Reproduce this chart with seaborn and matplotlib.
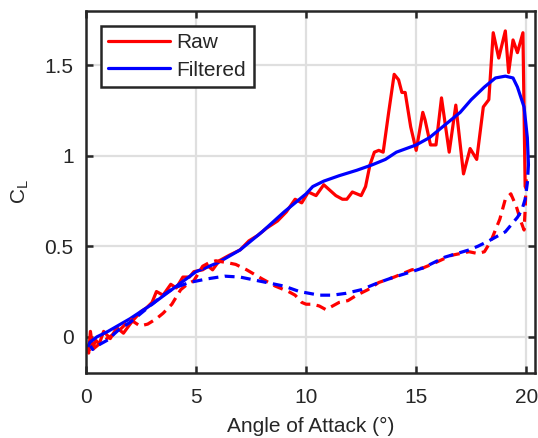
import matplotlib
matplotlib.use("Agg")
import matplotlib.pyplot as plt
import seaborn as sns
import pandas as pd

# Lift coefficient vs angle of attack: upstroke (solid) and downstroke (dashed)
raw_up_aoa = [0.05, 0.12, 0.2, 0.3, 0.45, 0.6, 0.8, 1.1, 1.4, 1.7, 2.0, 2.2, 2.5, 2.75, 3.0,
              3.2, 3.5, 3.85, 4.1, 4.4, 4.7, 4.9, 5.3, 5.55, 5.75, 6.05, 6.5, 7.0, 7.4, 7.8,
              8.2, 8.7, 9.1, 9.5, 9.8, 10.1, 10.45, 10.8, 11.35, 11.65, 11.85, 12.1, 12.5,
              12.7, 12.9, 13.1, 13.3, 13.5, 13.75, 14.0, 14.2, 14.35, 14.5, 14.75, 15.0,
              15.3, 15.4, 15.65, 15.9, 16.15, 16.5, 16.8, 17.15, 17.45, 17.75, 18.05, 18.3,
              18.5, 18.75, 19.05, 19.2, 19.4, 19.6, 19.85, 19.95]
raw_up_cl = [-0.06, -0.09, 0.03, -0.06, -0.02, -0.04, 0.03, -0.01, 0.05, 0.02, 0.07, 0.10,
             0.14, 0.16, 0.19, 0.25, 0.23, 0.29, 0.27, 0.33, 0.33, 0.36, 0.37, 0.39, 0.37,
             0.42, 0.45, 0.48, 0.53, 0.56, 0.60, 0.64, 0.69, 0.76, 0.74, 0.80, 0.78, 0.84,
             0.78, 0.76, 0.76, 0.80, 0.78, 0.83, 0.95, 1.02, 1.03, 1.02, 1.24, 1.45, 1.42,
             1.35, 1.35, 1.16, 1.03, 1.24, 1.20, 1.06, 1.06, 1.32, 1.02, 1.28, 0.90, 1.04,
             0.98, 1.27, 1.31, 1.68, 1.54, 1.69, 1.46, 1.64, 1.57, 1.68, 0.83]

raw_down_aoa = [20.0, 19.95, 19.9, 19.75, 19.55, 19.3, 19.05, 18.8, 18.4, 18.1, 17.8, 17.4,
                16.6, 15.7, 15.3, 14.8, 14.0, 13.3, 12.8, 12.3, 11.9, 11.5, 11.2, 10.9,
                10.6, 10.3, 10.0, 9.8, 9.5, 9.2, 8.6, 8.0, 7.3, 6.8, 6.4, 5.9, 5.6, 5.3,
                4.9, 4.6, 4.3, 3.9, 3.5, 3.2, 2.8, 2.45, 2.2, 2.0, 1.8, 1.55, 1.2, 0.95,
                0.6, 0.3, 0.18, 0.1]
raw_down_cl = [0.87, 0.70, 0.59, 0.64, 0.72, 0.79, 0.76, 0.65, 0.53, 0.47, 0.46, 0.47,
               0.45, 0.40, 0.38, 0.37, 0.33, 0.30, 0.26, 0.23, 0.20, 0.19, 0.17, 0.15,
               0.17, 0.18, 0.18, 0.19, 0.23, 0.25, 0.28, 0.32, 0.37, 0.40, 0.41, 0.42,
               0.41, 0.39, 0.31, 0.29, 0.26, 0.18, 0.13, 0.10, 0.07, 0.06, 0.08, 0.10,
               0.07, 0.04, 0.01, -0.01, -0.04, -0.07, -0.09, -0.06]

filt_up_aoa = [0.1, 0.18, 0.5, 1.0, 2.0, 3.0, 4.0, 5.0, 6.0, 7.0, 8.0, 9.0, 10.0, 10.3,
               10.8, 11.5, 12.3, 13.0, 13.6, 14.1, 15.0, 15.6, 16.3, 17.0, 17.5, 18.1,
               18.6, 19.05, 19.4, 19.6, 19.9, 20.05, 20.1]
filt_up_cl = [-0.05, -0.03, 0.0, 0.03, 0.10, 0.18, 0.27, 0.36, 0.41, 0.48, 0.58, 0.69,
              0.79, 0.83, 0.86, 0.89, 0.92, 0.95, 0.98, 1.02, 1.06, 1.10, 1.17, 1.24,
              1.31, 1.38, 1.43, 1.44, 1.43, 1.38, 1.27, 1.10, 0.95]

filt_down_aoa = [20.1, 20.05, 19.95, 19.8, 19.6, 19.05, 18.6, 18.3, 17.8, 17.4, 16.3, 15.3,
                 14.8, 14.0, 13.3, 12.5, 11.8, 11.2, 10.6, 9.7, 9.0, 8.2, 7.0, 6.3, 5.5,
                 4.7, 4.0, 3.5, 3.0, 2.0, 1.5, 0.95, 0.5, 0.3, 0.2]
filt_down_cl = [0.95, 0.85, 0.76, 0.70, 0.66, 0.58, 0.55, 0.53, 0.50, 0.48, 0.44, 0.38,
                0.36, 0.33, 0.30, 0.26, 0.24, 0.23, 0.23, 0.25, 0.28, 0.30, 0.33, 0.335,
                0.32, 0.30, 0.27, 0.23, 0.18, 0.08, 0.04, -0.02, -0.05, -0.07, -0.05]

x_ticks = [0, 5, 10, 15, 20]
y_ticks = [0, 0.5, 1, 1.5]
y_tick_labels = ["0", "0.5", "1", "1.5"]

sns.set_theme(style="whitegrid")
plt.rcParams["font.family"] = ["Liberation Sans", "DejaVu Sans"]
plt.rcParams["mathtext.fontset"] = "custom"
plt.rcParams["mathtext.rm"] = "Liberation Sans"
plt.rcParams["mathtext.it"] = "Liberation Sans"

ink = "#262626"
fig = plt.figure(figsize=(5.38, 4.38), dpi=100)
ax = fig.add_axes([0.1599, 0.1484, 0.8346, 0.8265])

def frame(x, y):
    return pd.DataFrame({"aoa": x, "cl": y})

lw = 2.3
dash = (0, (3.1, 2.0))
sns.lineplot(data=frame(raw_up_aoa, raw_up_cl), x="aoa", y="cl", sort=False,
             estimator=None, color="#ff0000", linewidth=lw, ax=ax, label="Raw")
sns.lineplot(data=frame(filt_up_aoa, filt_up_cl), x="aoa", y="cl", sort=False,
             estimator=None, color="#0000ff", linewidth=lw, ax=ax, label="Filtered")
sns.lineplot(data=frame(raw_down_aoa, raw_down_cl), x="aoa", y="cl", sort=False,
             estimator=None, color="#ff0000", linewidth=lw, ax=ax, linestyle=dash)
sns.lineplot(data=frame(filt_down_aoa, filt_down_cl), x="aoa", y="cl", sort=False,
             estimator=None, color="#0000ff", linewidth=lw, ax=ax, linestyle=dash)

ax.set_xlim(0, 20.4)
ax.set_ylim(-0.2, 1.8)
ax.set_xticks(x_ticks)
ax.set_yticks(y_ticks)
ax.set_yticklabels(y_tick_labels)
ax.set_xlabel("Angle of Attack (°)", fontsize=15, color=ink, labelpad=7)
ax.set_ylabel(r"C$_\mathrm{L}$", fontsize=15, color=ink, labelpad=10)

ax.set_facecolor("white")
ax.grid(True, color="#dfdfdf", lw=1.6)
ax.set_axisbelow(True)
for s in ax.spines.values():
    s.set_visible(True)
    s.set_color(ink)
    s.set_linewidth(1.8)
ax.tick_params(axis="both", direction="in", length=5, width=1.8, color=ink,
               labelcolor=ink, labelsize=15, top=True, right=True, bottom=True, left=True)
ax.tick_params(axis="x", pad=11)
ax.tick_params(axis="y", pad=9)

leg = ax.legend(loc="upper left", fontsize=15, handlelength=3.0, handletextpad=0.3,
                labelspacing=0.42, borderaxespad=0.7, borderpad=0.35, fancybox=False,
                framealpha=1, edgecolor=ink)
leg.get_frame().set_linewidth(1.8)
for t in leg.get_texts():
    t.set_color(ink)

fig.savefig("out.png", dpi=100)
